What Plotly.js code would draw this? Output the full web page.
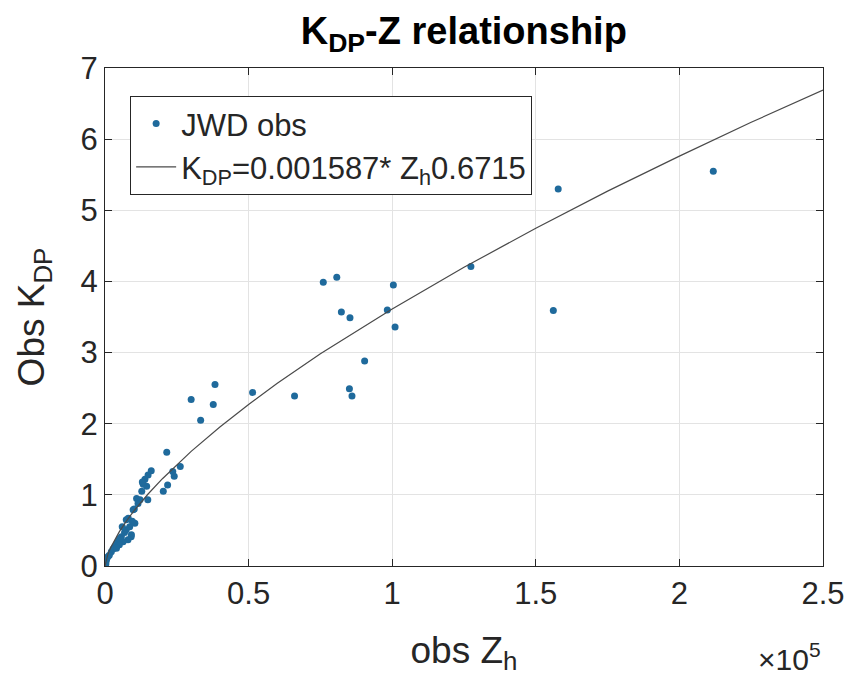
<!DOCTYPE html>
<html>
<head>
<meta charset="utf-8">
<script src="https://cdn.plot.ly/plotly-3.0.1.min.js"></script>
<style>html,body{margin:0;padding:0;background:#fff;}#chart{width:851px;height:684px;}</style>
</head>
<body>
<div id="chart"></div>
<script>
// Observed points: Z_h in units of 1e5, K_DP
const obsZh = [0.760,0.807,1.004,0.823,0.853,0.983,1.010,0.904,0.851,0.860,0.660,0.514,0.383,0.377,0.300,0.333,1.274,1.578,1.561,2.118,
  0.215,0.262,0.236,0.241,0.218,0.203,0.161,0.139,0.145,0.133,0.128,0.149,0.122,0.110,0.102,0.081,0.104,0.091,0.074,0.098,0.092,0.074,
  0.057,0.045,0.034,0.022,0.010,0.001,0.080,0.063,0.150,0.130,0.115,0.005,0.015,0.028,0.040,0.050,0.068,0.060,0.003,0.000,0.086,0.095,0.050,0.040];
const obsKdp = [3.99,4.06,3.95,3.57,3.49,3.60,3.36,2.88,2.49,2.39,2.39,2.44,2.55,2.27,2.34,2.05,4.21,5.30,3.59,5.55,
  1.60,1.40,1.33,1.26,1.14,1.05,1.34,1.22,1.12,1.15,1.05,0.93,0.93,0.95,0.80,0.67,0.60,0.41,0.65,0.79,0.44,0.51,
  0.41,0.34,0.27,0.20,0.13,0.06,0.37,0.34,1.28,1.18,0.88,0.08,0.15,0.24,0.31,0.38,0.47,0.55,0.03,0.01,0.55,0.63,0.30,0.25];
// Fitted curve points
const fitZh = [0, 0.005, 0.01, 0.02, 0.03, 0.05, 0.075, 0.1, 0.15, 0.2, 0.3, 0.4, 0.5, 0.6, 0.75, 0.875, 1.0, 1.25, 1.5, 1.75, 2.0, 2.25, 2.5];
const fitKdp = [0, 0.103, 0.164, 0.261, 0.343, 0.483, 0.635, 0.771, 1.012, 1.227, 1.611, 1.955, 2.271, 2.568, 2.982, 3.304, 3.614, 4.198, 4.748, 5.269, 5.761, 6.237, 6.69];
const xTicks = [0, 0.5, 1, 1.5, 2, 2.5];
const yTicks = [0, 1, 2, 3, 4, 5, 6, 7];

const FONT = 'Liberation Sans, Arial, sans-serif';
const TXT = '#262626';

const traces = [
  {x: obsZh, y: obsKdp, type: 'scatter', mode: 'markers', name: 'JWD obs',
   marker: {color: '#1f6a9c', size: 7}},
  {x: fitZh, y: fitKdp, type: 'scatter', mode: 'lines', name: 'K<sub>DP</sub>=0.001587* Z<sub>h</sub>0.6715',
   line: {color: '#4a4a4a', width: 1.2}}
];

const axisCommon = {
  showgrid: true, gridcolor: '#e3e3e3', gridwidth: 1,
  showline: true, linecolor: '#262626', linewidth: 1, mirror: 'ticks',
  ticks: 'inside', ticklen: 7, tickcolor: '#262626',
  zeroline: false, tickfont: {family: FONT, size: 31, color: TXT}
};

const layout = {
  width: 851, height: 684,
  margin: {l: 105, r: 28, t: 68, b: 118},
  paper_bgcolor: '#ffffff', plot_bgcolor: '#ffffff',
  font: {family: FONT, color: TXT},
  title: {text: '<b>K<sub>DP</sub>-Z relationship</b>', font: {family: FONT, size: 38, color: '#000'},
          x: 0.545, xanchor: 'center', y: 0.955, yanchor: 'middle'},
  xaxis: Object.assign({}, axisCommon, {range: [0, 2.5], tickvals: xTicks, ticktext: xTicks.map(String),
    title: {text: 'obs Z<sub>h</sub>', font: {family: FONT, size: 37, color: TXT}, standoff: 26}}),
  yaxis: Object.assign({}, axisCommon, {range: [0, 7], tickvals: yTicks, ticktext: yTicks.map(String),
    title: {text: 'Obs K<sub>DP</sub>', font: {family: FONT, size: 37, color: TXT}, standoff: 24}}),
  showlegend: true,
  legend: {x: 0.035, y: 0.944, xanchor: 'left', yanchor: 'top', bgcolor: '#ffffff',
    bordercolor: '#262626', borderwidth: 1, font: {family: FONT, size: 31, color: TXT},
    itemwidth: 40, tracegroupgap: 4},
  annotations: [{xref: 'paper', yref: 'paper', x: 1.0, y: -0.14, xanchor: 'right', yanchor: 'top',
    text: '×10<sup>5</sup>', showarrow: false, font: {family: FONT, size: 30, color: TXT}}]
};

Plotly.newPlot('chart', traces, layout, {displayModeBar: false, staticPlot: true});
</script>
</body>
</html>
